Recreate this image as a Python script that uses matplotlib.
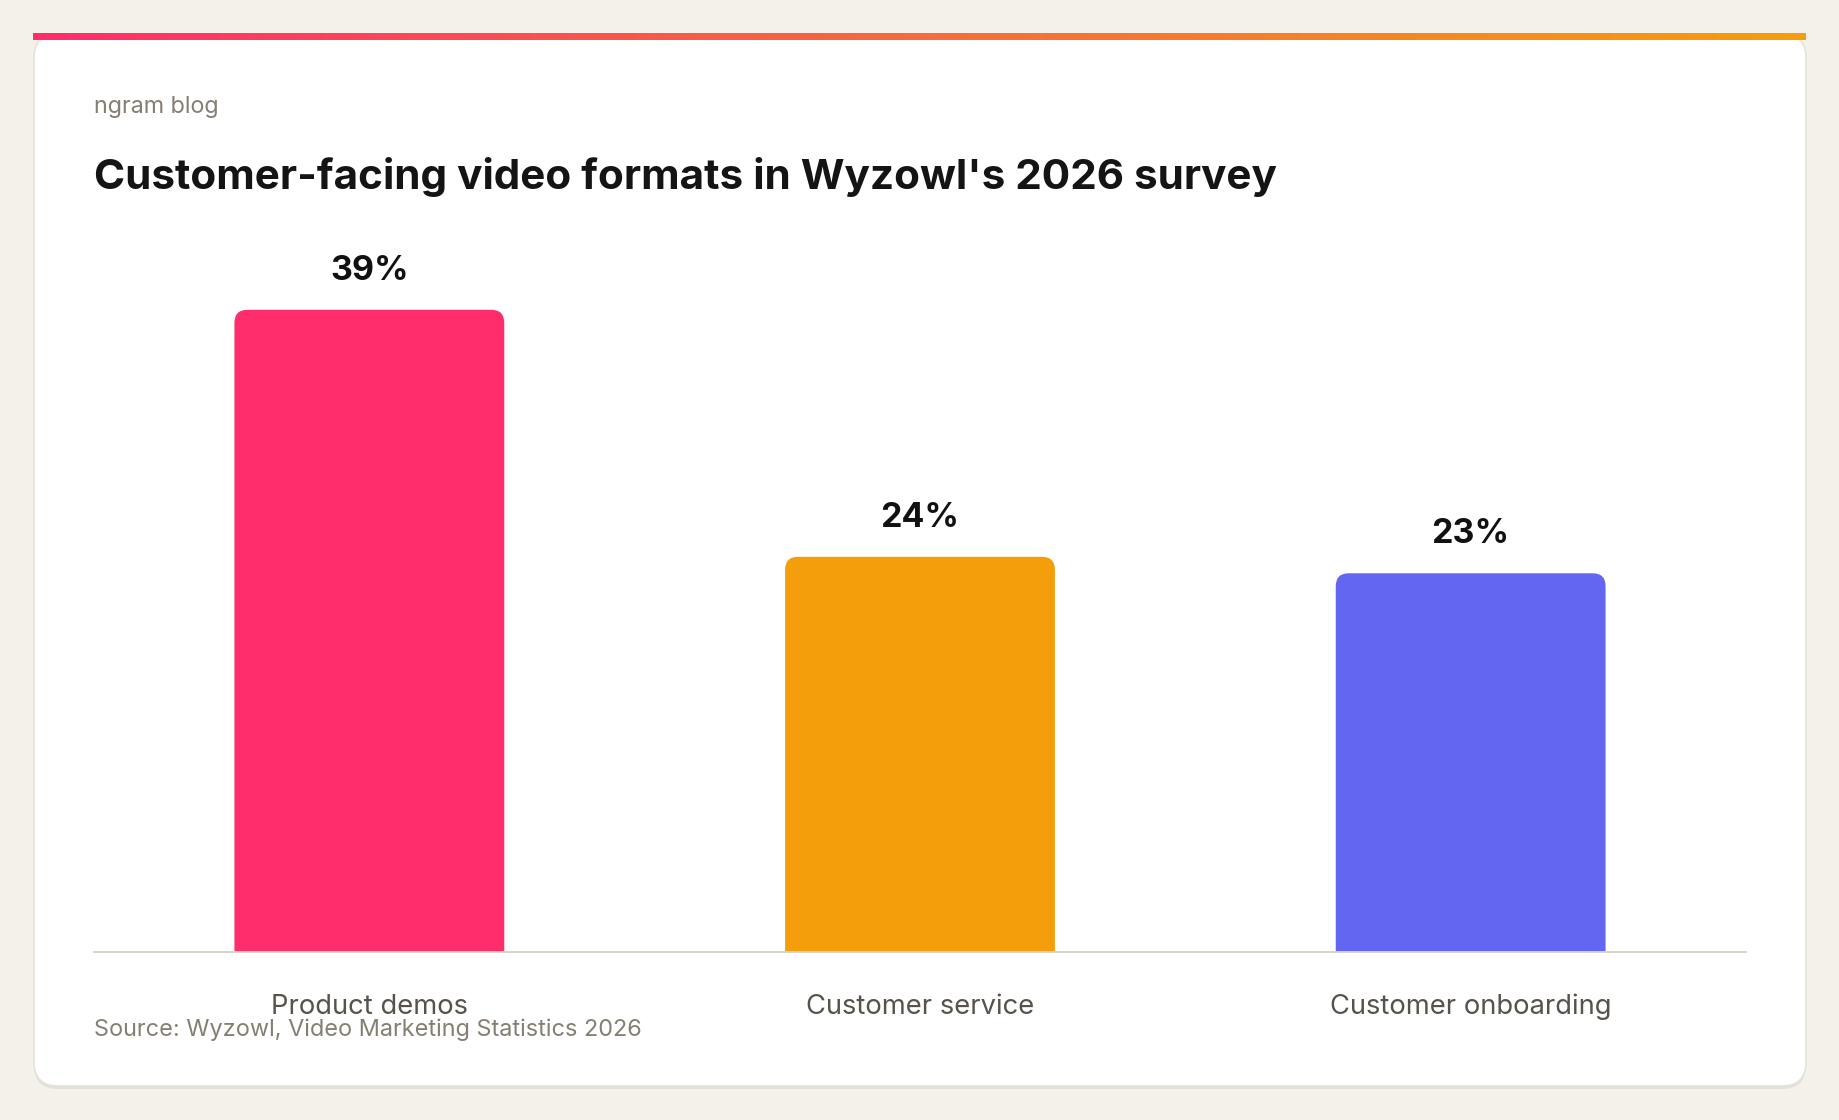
import matplotlib

matplotlib.use("Agg")
import matplotlib.pyplot as plt  # noqa: E402
import numpy as np  # noqa: E402
from matplotlib.colors import LinearSegmentedColormap  # noqa: E402
from matplotlib.patches import FancyBboxPatch  # noqa: E402

categories = ["Product demos", "Customer service", "Customer onboarding"]
shares = [39, 24, 23]
bar_colors = ["#ff2d6b", "#f59e0b", "#6366f1"]
value_labels = [f"{v}%" for v in shares]

title = "Customer-facing video formats in Wyzowl's 2026 survey"
kicker = "ngram blog"
source = "Source: Wyzowl, Video Marketing Statistics 2026"

W, H = 1840, 1120
plt.rcParams["font.family"] = ["Inter", "DejaVu Sans"]

fig = plt.figure(figsize=(W / 100, H / 100), dpi=100)
fig.patch.set_facecolor("#f4f1ea")

# card background (pixel coords)
bg = fig.add_axes([0, 0, 1, 1])
bg.set_xlim(0, W)
bg.set_ylim(H, 0)
bg.axis("off")
bg.add_patch(FancyBboxPatch((34, 36), 1772, 1053, boxstyle="round,pad=0,rounding_size=24",
                            fc="#e4e0d8", ec="none"))
bg.add_patch(FancyBboxPatch((34, 34), 1772, 1052, boxstyle="round,pad=0,rounding_size=24",
                            fc="white", ec="#e6e2da", lw=1.2))
grad = LinearSegmentedColormap.from_list("top", ["#ff2d6b", "#f76b3c", "#f59e0b"])
bg.imshow(np.linspace(0, 1, 256)[None, :], cmap=grad, aspect="auto",
          extent=(33, 1806, 40, 33), zorder=3)
bg.set_xlim(0, W)
bg.set_ylim(H, 0)

fig.text(94 / W, 1 - 107 / H, kicker, fontsize=16.8, color="#857e73", va="center")
fig.text(94 / W, 1 - 177 / H, title, fontsize=30.4, fontweight="bold",
         color="#141414", va="center")
fig.text(94 / W, 1 - 1030 / H, source, fontsize=16.9, color="#857e73", va="center")

ax = fig.add_axes([94 / W, 1 - 952 / H, (1746 - 94) / W, (952 - 211) / H])
ax.set_facecolor("none")
x = np.arange(len(categories))
bars = ax.bar(x, shares, width=0.49)
ax.set_xlim(-0.5, len(categories) - 0.5)
ax.set_ylim(0, 45)

# rounded top corners: swap each bar for a rounded box that dips below the axis
px_x = ax.transData.transform((1, 0))[0] - ax.transData.transform((0, 0))[0]
px_y = ax.transData.transform((0, 1))[1] - ax.transData.transform((0, 0))[1]
r = 13 / px_x
for b, c in zip(bars, bar_colors):
    b.set_visible(False)
    ax.add_patch(FancyBboxPatch((b.get_x(), -2), b.get_width(), b.get_height() + 2,
                                boxstyle=f"round,pad=0,rounding_size={r}",
                                mutation_aspect=px_x / px_y, fc=c, ec="none"))

for b, lab in zip(bars, value_labels):
    ax.annotate(lab, (b.get_x() + b.get_width() / 2, b.get_height()),
                xytext=(0, 28), textcoords="offset points", ha="center", va="center",
                fontsize=24.5, fontweight="bold", color="#111111")

for s in ["top", "right", "left"]:
    ax.spines[s].set_visible(False)
ax.spines["bottom"].set_color("#d8d3ca")
ax.spines["bottom"].set_linewidth(1.4)
ax.set_yticks([])
ax.set_xticks(x)
ax.set_xticklabels(categories, fontsize=19.7, color="#57534b")
ax.tick_params(axis="x", length=0, pad=30)

fig.savefig("out.png", dpi=100, facecolor=fig.get_facecolor())
